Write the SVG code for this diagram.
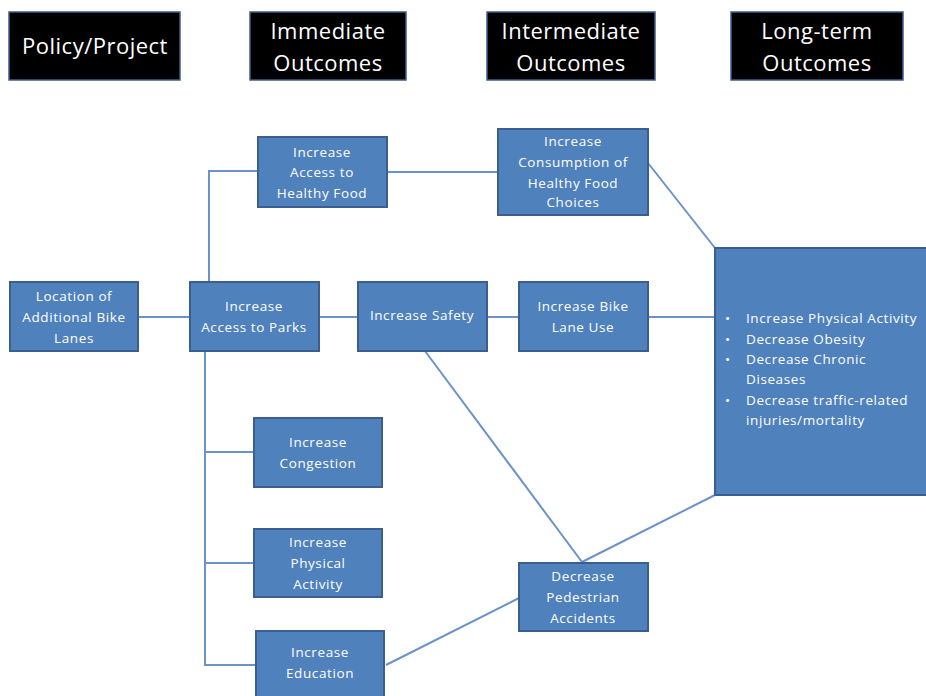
<svg xmlns="http://www.w3.org/2000/svg" width="926" height="696" viewBox="0 0 926 696">
<style>
.hdr{fill:#000;stroke:#3d5f8f;stroke-width:1.5}
.ht{fill:#fff;font-family:"Open Sans","Liberation Sans",sans-serif;font-size:22px;letter-spacing:0.5px;text-anchor:middle}
.nd{fill:#4f81bd;stroke:#3a5f8e;stroke-width:2}
.nt{fill:#fff;font-family:"Open Sans","Liberation Sans",sans-serif;font-size:13.5px;letter-spacing:0.6px;text-anchor:middle}
.bt{fill:#fff;font-family:"Open Sans","Liberation Sans",sans-serif;font-size:13.5px;letter-spacing:0.6px}
.cn{fill:none;stroke:#6b93c9;stroke-width:2}
</style>
<rect width="926" height="696" fill="#fff"/>
<g id="header-policy"><rect class="hdr" x="9" y="12" width="171" height="68"/><text class="ht" x="95" y="54">Policy/Project</text></g>
<g id="header-immediate"><rect class="hdr" x="250" y="12" width="156" height="68"/><text class="ht" x="328" y="39">Immediate</text><text class="ht" x="328" y="71">Outcomes</text></g>
<g id="header-intermediate"><rect class="hdr" x="487" y="12" width="168" height="68"/><text class="ht" x="571" y="39">Intermediate</text><text class="ht" x="571" y="71">Outcomes</text></g>
<g id="header-longterm"><rect class="hdr" x="731" y="12" width="172" height="68"/><text class="ht" x="817" y="39">Long-term</text><text class="ht" x="817" y="71">Outcomes</text></g>
<g id="connectors">
<line class="cn" x1="138" y1="317" x2="190" y2="317"/>
<polyline class="cn" points="209,282 209,171 258,171"/>
<line class="cn" x1="387" y1="172" x2="498" y2="172"/>
<line class="cn" x1="319" y1="317" x2="358" y2="317"/>
<line class="cn" x1="487" y1="317" x2="519" y2="317"/>
<line class="cn" x1="648" y1="317" x2="715" y2="317"/>
<line class="cn" x1="648" y1="163" x2="715" y2="248"/>
<polyline class="cn" points="205,351 205,665 256,665"/>
<line class="cn" x1="205" y1="452" x2="254" y2="452"/>
<line class="cn" x1="205" y1="563" x2="254" y2="563"/>
<line class="cn" x1="425" y1="351" x2="582" y2="562"/>
<line class="cn" x1="582" y1="562" x2="715" y2="495"/>
<line class="cn" x1="386" y1="665" x2="519" y2="598"/>
</g>
<g id="n-location"><rect class="nd" x="10" y="282" width="128" height="69"/><text class="nt" x="74" y="301">Location of</text><text class="nt" x="74" y="322">Additional Bike</text><text class="nt" x="74" y="343">Lanes</text></g>
<g id="n-parks"><rect class="nd" x="190" y="282" width="129" height="69"/><text class="nt" x="254" y="311">Increase</text><text class="nt" x="254" y="332">Access to Parks</text></g>
<g id="n-food"><rect class="nd" x="258" y="137" width="129" height="70"/><text class="nt" x="322" y="157">Increase</text><text class="nt" x="322" y="177">Access to</text><text class="nt" x="322" y="198">Healthy Food</text></g>
<g id="n-consumption"><rect class="nd" x="498" y="129" width="150" height="86"/><text class="nt" x="573" y="146">Increase</text><text class="nt" x="573" y="167">Consumption of</text><text class="nt" x="573" y="188">Healthy Food</text><text class="nt" x="573" y="207">Choices</text></g>
<g id="n-safety"><rect class="nd" x="358" y="282" width="129" height="69"/><text class="nt" x="422" y="320">Increase Safety</text></g>
<g id="n-bikelane"><rect class="nd" x="519" y="282" width="129" height="69"/><text class="nt" x="583" y="311">Increase Bike</text><text class="nt" x="583" y="332">Lane Use</text></g>
<g id="n-longterm"><rect class="nd" x="715" y="248" width="215" height="247"/>
<text class="bt" x="725" y="323">•</text><text class="bt" x="746" y="323">Increase Physical Activity</text>
<text class="bt" x="725" y="344">•</text><text class="bt" x="746" y="344">Decrease Obesity</text>
<text class="bt" x="725" y="364">•</text><text class="bt" x="746" y="364">Decrease Chronic</text>
<text class="bt" x="746" y="384">Diseases</text>
<text class="bt" x="725" y="405">•</text><text class="bt" x="746" y="405">Decrease traffic-related</text>
<text class="bt" x="746" y="425">injuries/mortality</text>
</g>
<g id="n-congestion"><rect class="nd" x="254" y="418" width="128" height="69"/><text class="nt" x="318" y="447">Increase</text><text class="nt" x="318" y="468">Congestion</text></g>
<g id="n-physact"><rect class="nd" x="254" y="529" width="128" height="68"/><text class="nt" x="318" y="547">Increase</text><text class="nt" x="318" y="568">Physical</text><text class="nt" x="318" y="589">Activity</text></g>
<g id="n-education"><rect class="nd" x="256" y="631" width="128" height="70"/><text class="nt" x="320" y="657">Increase</text><text class="nt" x="320" y="678">Education</text></g>
<g id="n-pedestrian"><rect class="nd" x="519" y="563" width="129" height="68"/><text class="nt" x="583" y="581">Decrease</text><text class="nt" x="583" y="602">Pedestrian</text><text class="nt" x="583" y="623">Accidents</text></g>
</svg>
